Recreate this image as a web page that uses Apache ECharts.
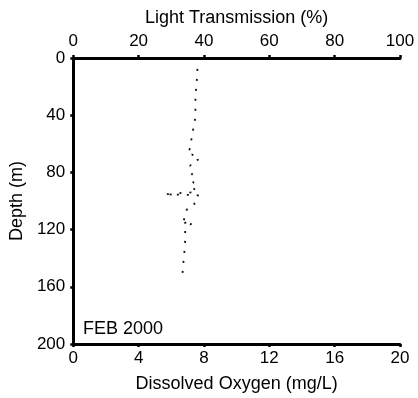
<!DOCTYPE html>
<html>
<head>
<meta charset="utf-8">
<script src="https://cdn.jsdelivr.net/npm/echarts@6/dist/echarts.min.js"></script>
<style>
  html, body { margin: 0; padding: 0; background: #fff; }
  #chart { width: 418px; height: 398px; }
</style>
</head>
<body>
<div id="chart"></div>
<script>
// profile: depth (m) and dissolved oxygen (mg/L)
const depth = [7.6, 14.6, 21.5, 28.5, 35.4, 42.4, 48.6, 54.9, 62.5, 67.4, 67.4, 68.5, 70.8, 72.0,
  72.7, 75.5, 79.7, 81.3, 82.8, 85.2, 87.0, 89.8, 92.8, 94.0, 94.4, 95.6, 95.1, 95.8, 95.6, 96.3,
  99.1, 102.8, 106.0, 109.0, 114.8, 116.0, 114.4, 114.8, 115.3, 120.6, 127.6, 134.5, 141.5, 147.9, 154.2];
const oxygen = [7.60, 7.57, 7.52, 7.48, 7.48, 7.46, 7.36, 7.26, 7.16, 7.02, 7.26, 7.36, 7.72, 7.83,
  7.26, 7.16, 7.36, 7.26, 7.16, 7.20, 7.36, 7.16, 7.57, 7.26, 6.61, 6.18, 5.57, 6.81, 7.46, 7.66,
  7.46, 7.40, 6.95, 6.85, 6.75, 6.61, 7.11, 7.30, 7.42, 6.85, 6.85, 6.81, 6.75, 6.71, 6.65];

const lightTicks = [0, 20, 40, 60, 80, 100];
const oxygenTicks = [0, 4, 8, 12, 16, 20];
const depthTicks = [0, 40, 80, 120, 160, 200];
const label = 'FEB 2000';

const font = 'Liberation Sans, Arial, Helvetica, sans-serif';
const ink = '#000';

const chart = echarts.init(document.getElementById('chart'));

const axisBase = {
  axisLine: { show: true, lineStyle: { color: ink, width: 3 } },
  axisTick: { show: true, length: 3, lineStyle: { color: ink, width: 2.5 } },
  splitLine: { show: false },
  axisLabel: { color: ink, fontSize: 17, fontFamily: font },
  nameTextStyle: { color: ink, fontSize: 18, fontFamily: font },
  nameLocation: 'middle'
};

chart.setOption({
  animation: false,
  backgroundColor: '#fff',
  grid: { left: 73, right: 18, top: 58, bottom: 52 },
  xAxis: [
    Object.assign({}, axisBase, {
      type: 'value', position: 'top',
      min: lightTicks[0], max: lightTicks[lightTicks.length - 1], interval: 20,
      name: 'Light Transmission (%)', nameGap: 31,
      axisLabel: Object.assign({}, axisBase.axisLabel, { margin: 8 })
    }),
    Object.assign({}, axisBase, {
      type: 'value', position: 'bottom',
      min: oxygenTicks[0], max: oxygenTicks[oxygenTicks.length - 1], interval: 4,
      name: 'Dissolved Oxygen (mg/L)', nameGap: 31,
      axisLabel: Object.assign({}, axisBase.axisLabel, { margin: 6 })
    })
  ],
  yAxis: Object.assign({}, axisBase, {
    type: 'value', inverse: true,
    min: depthTicks[0], max: depthTicks[depthTicks.length - 1], interval: 40,
    name: 'Depth (m)', nameGap: 46,
    axisLabel: Object.assign({}, axisBase.axisLabel, { margin: 8 })
  }),
  graphic: [{
    type: 'text', left: 83, top: 320,
    style: { text: label, fill: ink, fontSize: 18, fontFamily: font }
  }],
  series: [{
    type: 'line',
    xAxisIndex: 1,
    data: depth.map((d, i) => [oxygen[i], d]),
    showSymbol: false,
    lineStyle: { color: '#111', width: 1.8, type: [2, 8] }
  }]
});
</script>
</body>
</html>
